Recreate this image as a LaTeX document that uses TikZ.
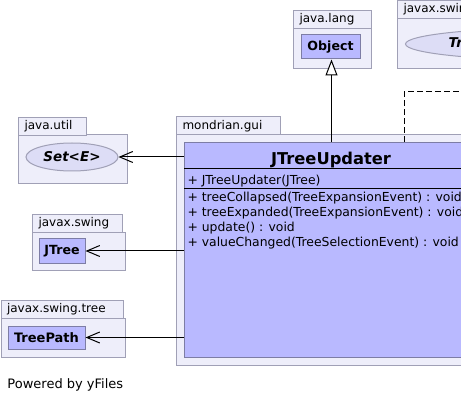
\documentclass[tikz,border=0pt]{standalone}
\usepackage{fontspec}
\setmainfont{DejaVu Sans}
\usetikzlibrary{arrows.meta,shapes.geometric}
\definecolor{pkgfill}{RGB}{238,238,250}
\definecolor{pkgline}{RGB}{160,160,182}
\definecolor{clsfill}{RGB}{185,185,255}
\definecolor{clsline}{RGB}{125,125,165}
\definecolor{ifcfill}{RGB}{221,221,246}
\begin{document}
\begin{tikzpicture}[x=1pt,y=-1pt,line width=1pt,
	pkgtab/.style={draw=pkgline,fill=pkgfill,anchor=north west,inner xsep=6pt,inner ysep=0pt,minimum height=18pt,align=left,font=\fontsize{12}{14}\selectfont},
	pkgbody/.style={draw=pkgline,fill=pkgfill,anchor=north west,inner sep=0pt},
	cls/.style={draw=clsline,fill=clsfill,inner sep=0pt,font=\fontsize{12.6}{14}\selectfont\bfseries},
	ifc/.style={ellipse,draw=pkgline,fill=ifcfill,inner sep=0pt,font=\fontsize{13.5}{15}\selectfont\bfseries\itshape},
	member/.style={anchor=base west,inner sep=0pt,font=\fontsize{12.4}{15}\selectfont},
	uses/.style={-{Straight Barb[length=13pt,width=11pt]}},
	extends/.style={-{Triangle[length=16pt,width=12pt,fill=white]}},
	realizes/.style={dash pattern=on 6pt off 3pt}]
	\clip (0,0) rectangle (461,401);
	% package java.lang
	\node[pkgbody,minimum width=78,minimum height=40] (langbody) at (293,28) {};
	\node[pkgtab,text width=66] (langtab) at (293,10) {java.lang};
	\node[cls,minimum width=59,minimum height=24] (object) at (330.5,47) {Object};
	% package javax.swing.event
	\node[pkgbody,minimum width=100,minimum height=50] (eventbody) at (397,18) {};
	\node[pkgtab,text width=110] (eventtab) at (397,0) {javax.swing.event};
	\node[ifc,text width=208,minimum height=32,anchor=west] (listener) at (405,44) {TreeExpansionListener};
	% package java.util
	\node[pkgbody,minimum width=109,minimum height=49] (utilbody) at (18,134) {};
	\node[pkgtab,text width=56] (utiltab) at (18,117) {java.util};
	\node[ifc,minimum width=92,minimum height=28] (setE) at (72,157) {Set<E>};
	% package javax.swing
	\node[pkgbody,minimum width=93,minimum height=38] (swingbody) at (32,232) {};
	\node[pkgtab,text width=78] (swingtab) at (32,214) {javax.swing};
	\node[cls,minimum width=46,minimum height=24] (jtree) at (62,251) {JTree};
	% package javax.swing.tree
	\node[pkgbody,minimum width=124.5,minimum height=39] (treebody) at (0.5,318) {};
	\node[pkgtab,text width=110] (treetab) at (0.5,300) {javax.swing.tree};
	\node[cls,minimum width=77,minimum height=23,font=\fontsize{13}{15}\selectfont\bfseries] (treepath) at (46.5,337.5) {TreePath};
	% package mondrian.gui
	\node[pkgbody,minimum width=320,minimum height=231] (guibody) at (176,134) {};
	\node[pkgtab,text width=92] (guitab) at (176,116.5) {mondrian.gui};
	% class JTreeUpdater
	\node[cls,anchor=north west,minimum width=294,minimum height=215] (jtu) at (184,142) {};
	\node[anchor=base,inner sep=0pt,font=\fontsize{16.3}{18}\selectfont\bfseries] (jtutitle) at (331,164.5) {JTreeUpdater};
	\draw[black] (jtu.west |- 0,169) -- (jtu.east |- 0,169);
	\draw[black] (jtu.west |- 0,189) -- (jtu.east |- 0,189);
	\node[member] (ctor) at (187,184.5) {+ JTreeUpdater(JTree)};
	\foreach \m [count=\i] in {{+ treeCollapsed(TreeExpansionEvent) : void},
		{+ treeExpanded(TreeExpansionEvent) : void},
		{+ update() : void},
		{+ valueChanged(TreeSelectionEvent) : void}}
		\node[member] (m\i) at (187,186.5+15*\i) {\m};
	% connectors
	\coordinate (rbend) at (404,92);
	\coordinate (rend) at (470,92);
	\draw[extends] (jtu.north) -- (jtu.north |- object.south);
	\draw[realizes] (jtu.north -| rbend) -- (rbend) -- (rend);
	\draw[uses] (jtu.west |- setE.east) -- (setE.east);
	\draw[uses] (jtu.west |- jtree.east) -- (jtree.east);
	\draw[uses] (jtu.west |- treepath.east) -- (treepath.east);
	% footer
	\node[anchor=base west,inner sep=0pt,font=\fontsize{13}{15}\selectfont] (powered) at (7,388) {Powered by yFiles};
\end{tikzpicture}
\end{document}
